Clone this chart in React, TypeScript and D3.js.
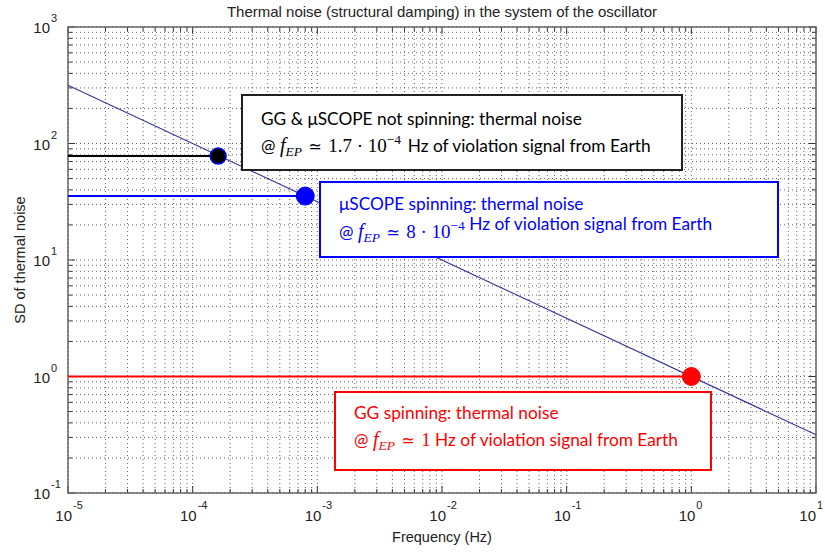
import React from "react";
import * as d3 from "d3";

const W = 825;
const H = 552;

// Data
const lineFreq = [1e-5, 10];
const lineSD = [316, 0.316];
const pointFreq = [1.6e-4, 8e-4, 1];
const pointSD = [78, 35.4, 1];
const pointColors = ["#000000", "#0000ff", "#ff0000"];
const xTickExp = [-5, -4, -3, -2, -1, 0, 1];
const yTickExp = [-1, 0, 1, 2, 3];

const title = "Thermal noise (structural damping) in the system of the oscillator";
const xLabel = "Frequency (Hz)";
const yLabel = "SD of thermal noise";

const M = { left: 68, right: 816, top: 27, bottom: 493 };

export default function App() {
  const x = d3.scaleLog().domain([1e-5, 10]).range([M.left, M.right]);
  const y = d3.scaleLog().domain([0.1, 1000]).range([M.bottom, M.top]);

  const xMinor: number[] = [];
  for (let e = -5; e < 1; e++) for (let k = 2; k <= 9; k++) xMinor.push(k * Math.pow(10, e));
  const yMinor: number[] = [];
  for (let e = -1; e < 3; e++) for (let k = 2; k <= 9; k++) yMinor.push(k * Math.pow(10, e));
  const xMajor = xTickExp.map((e) => Math.pow(10, e));
  const yMajor = yTickExp.map((e) => Math.pow(10, e));

  const lineGen = d3
    .line<number>()
    .x((_, i) => x(lineFreq[i]))
    .y((d) => y(d));

  const gridStyle = { stroke: "#3a3a3a", strokeWidth: 0.8, strokeDasharray: "1,3" };
  const sans = "'Liberation Sans', Arial, sans-serif";
  const boxFont = "Lato, 'Open Sans', sans-serif";
  const mathFont = "'Liberation Serif', 'DejaVu Serif', serif";
  const symFont = "'DejaVu Sans', sans-serif";
  const fs = 17.3;

  const mathLine = (num: React.ReactNode, color: string, tx: number, ty: number, rest: string) => (
    <text x={tx} y={ty} fill={color} fontSize={fs} fontFamily={boxFont}>
      <tspan>@ </tspan>
      <tspan fontFamily={mathFont} fontStyle="italic" fontSize={20}>f</tspan>
      <tspan fontFamily={mathFont} fontStyle="italic" fontSize={13.5} dy={4}>EP</tspan>
      <tspan fontFamily={symFont} fontSize={16} dy={-4}>{"\u2009\u2009≃\u2009\u2009"}</tspan>
      {num}
      <tspan>{rest}</tspan>
    </text>
  );

  return (
    <svg width={W} height={H} style={{ position: "absolute", left: 0, top: 0, background: "#fff" }}>
      <rect x={0} y={0} width={W} height={H} fill="#fff" />
      {/* grid */}
      <g>
        {[...xMinor, ...xMajor].map((v, i) => (
          <line key={"gx" + i} x1={x(v)} x2={x(v)} y1={M.top} y2={M.bottom} {...gridStyle} />
        ))}
        {[...yMinor, ...yMajor].map((v, i) => (
          <line key={"gy" + i} x1={M.left} x2={M.right} y1={y(v)} y2={y(v)} {...gridStyle} />
        ))}
      </g>
      {/* ticks */}
      <g stroke="#333" strokeWidth={1}>
        {xMinor.map((v, i) => (
          <g key={"tx" + i}>
            <line x1={x(v)} x2={x(v)} y1={M.bottom} y2={M.bottom - 4} />
            <line x1={x(v)} x2={x(v)} y1={M.top} y2={M.top + 4} />
          </g>
        ))}
        {xMajor.map((v, i) => (
          <g key={"txm" + i}>
            <line x1={x(v)} x2={x(v)} y1={M.bottom} y2={M.bottom - 7} />
            <line x1={x(v)} x2={x(v)} y1={M.top} y2={M.top + 7} />
          </g>
        ))}
        {yMinor.map((v, i) => (
          <g key={"ty" + i}>
            <line x1={M.left} x2={M.left + 4} y1={y(v)} y2={y(v)} />
            <line x1={M.right} x2={M.right - 4} y1={y(v)} y2={y(v)} />
          </g>
        ))}
        {yMajor.map((v, i) => (
          <g key={"tym" + i}>
            <line x1={M.left} x2={M.left + 7} y1={y(v)} y2={y(v)} />
            <line x1={M.right} x2={M.right - 7} y1={y(v)} y2={y(v)} />
          </g>
        ))}
      </g>
      {/* axes box */}
      <rect x={M.left} y={M.top} width={M.right - M.left} height={M.bottom - M.top} fill="none" stroke="#666" strokeWidth={1.5} />

      {/* main line */}
      <path d={lineGen(lineSD) || ""} fill="none" stroke="#3b3b9a" strokeWidth={1.2} />

      {/* horizontal reference lines */}
      <line x1={M.left} x2={x(pointFreq[0])} y1={y(pointSD[0])} y2={y(pointSD[0])} stroke="#000" strokeWidth={2} />
      <line x1={M.left} x2={x(pointFreq[1])} y1={y(pointSD[1])} y2={y(pointSD[1])} stroke="#0000ff" strokeWidth={2} />
      <line x1={M.left} x2={x(pointFreq[2])} y1={y(pointSD[2])} y2={y(pointSD[2])} stroke="#ff0000" strokeWidth={2} />

      {/* boxes */}
      <rect x={242} y={95} width={440} height={75} fill="#fff" stroke="#222" strokeWidth={2} />
      <rect x={320} y={182} width={458} height={75} fill="#fff" stroke="#0000ff" strokeWidth={2} />
      <rect x={335} y={392} width={376} height={78} fill="#fff" stroke="#ff0000" strokeWidth={2} />

      {/* points */}
      {pointFreq.map((f, i) => (
        <circle
          key={"p" + i}
          cx={x(f)}
          cy={y(pointSD[i])}
          r={i === 0 ? 8 : 9}
          fill={pointColors[i]}
          stroke={i === 0 ? "#0000ff" : pointColors[i]}
          strokeWidth={i === 0 ? 1.5 : 1}
        />
      ))}

      {/* box texts */}
      <text x={261} y={125} fill="#000" fontSize={fs} fontFamily={boxFont}>
        GG &amp; μSCOPE not spinning: thermal noise
      </text>
      {mathLine(
        <>
          <tspan fontFamily={mathFont} fontSize={19}>1.7 · 10</tspan>
          <tspan fontFamily={mathFont} fontSize={13.5} dy={-8}>−4</tspan>
          <tspan dy={8}>{"\u2009 "}</tspan>
        </>,
        "#000",
        261,
        152,
        " Hz  of violation signal from Earth"
      )}

      <text x={339} y={210} fill="#0000ff" fontSize={fs} fontFamily={boxFont}>
        μSCOPE spinning: thermal noise
      </text>
      {mathLine(
        <>
          <tspan fontFamily={mathFont} fontSize={19}>8 · 10</tspan>
          <tspan fontFamily={mathFont} fontSize={13.5} dy={-8}>−4</tspan>
          <tspan dy={8}></tspan>
        </>,
        "#0000ff",
        339,
        238,
        " Hz of violation signal from Earth"
      )}

      <text x={354} y={419} fill="#ff0000" fontSize={fs} fontFamily={boxFont}>
        GG spinning: thermal noise
      </text>
      {mathLine(
        <tspan fontFamily={mathFont} fontSize={19}>1</tspan>,
        "#ff0000",
        354,
        446,
        " Hz of violation signal from Earth"
      )}

      {/* tick labels */}
      {xTickExp.map((e, i) => {
        const tx = x(Math.pow(10, e)) + (i === xTickExp.length - 1 ? 0 : 4);
        return (
          <text key={"xl" + i} y={521} fontFamily={sans} fill="#222">
            <tspan x={tx} textAnchor="end" fontSize={15}>10</tspan>
            <tspan x={tx + 1} y={509} fontSize={11}>{e}</tspan>
          </text>
        );
      })}
      {yTickExp.map((e, i) => (
        <text key={"yl" + i} y={y(Math.pow(10, e)) + 6} fontFamily={sans} fill="#222">
          <tspan x={50} textAnchor="end" fontSize={15}>10</tspan>
          <tspan x={51} y={y(Math.pow(10, e)) - 5} fontSize={11}>{e}</tspan>
        </text>
      ))}

      {/* title and labels */}
      <text x={(M.left + M.right) / 2} y={17} textAnchor="middle" fontFamily={sans} fontSize={15} fill="#222">
        {title}
      </text>
      <text x={(M.left + M.right) / 2} y={542} textAnchor="middle" fontFamily={sans} fontSize={14.5} fill="#222">
        {xLabel}
      </text>
      <text
        transform={`translate(25, ${(M.top + M.bottom) / 2}) rotate(-90)`}
        textAnchor="middle"
        fontFamily={sans}
        fontSize={14.5}
        fill="#222"
      >
        {yLabel}
      </text>
    </svg>
  );
}
